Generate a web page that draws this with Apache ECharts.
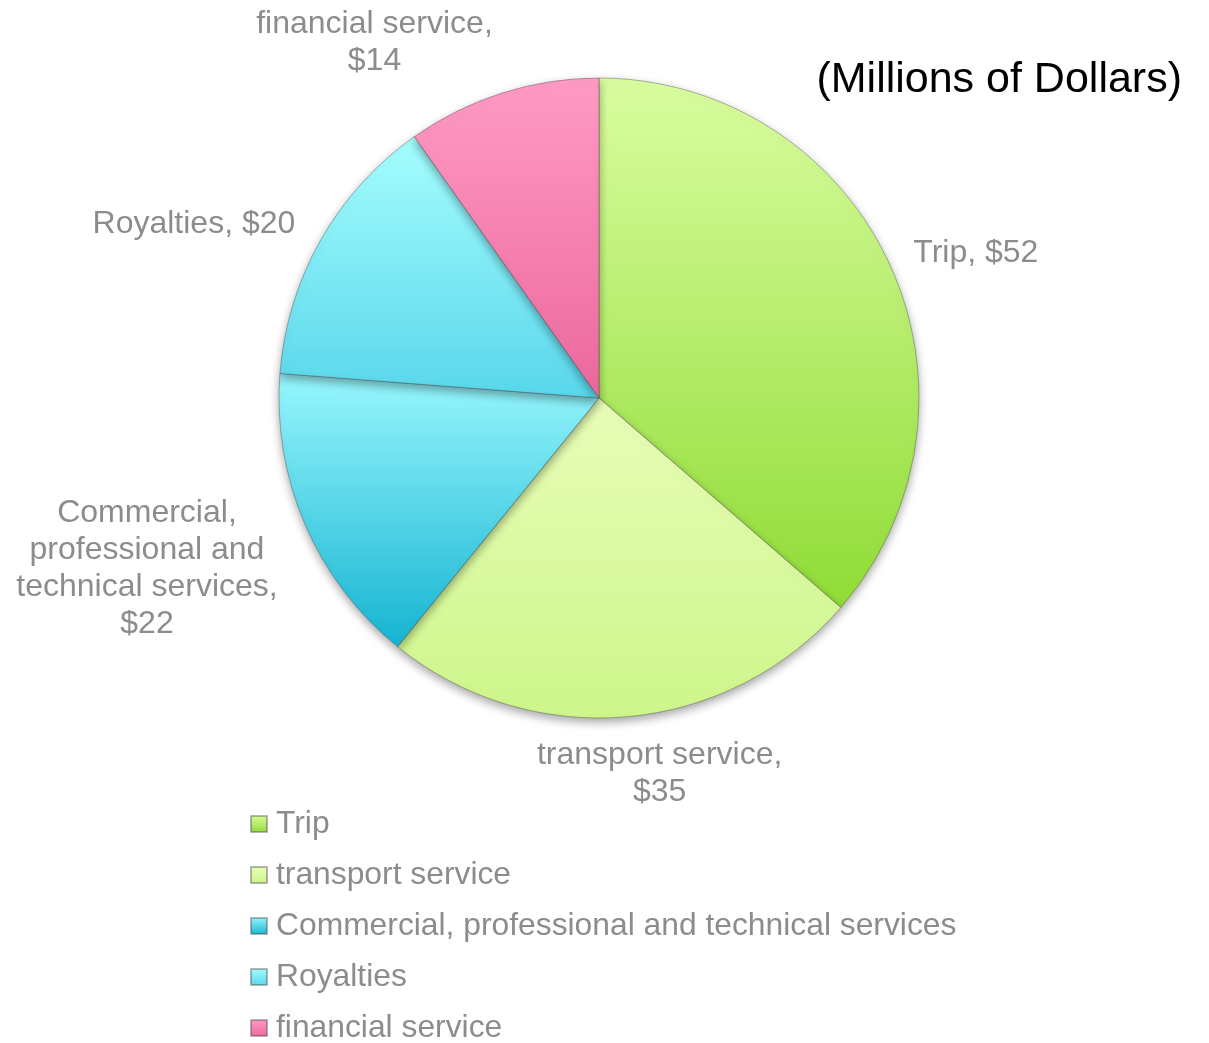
<!DOCTYPE html>
<html>
<head>
<meta charset="utf-8">
<title>Service imports (Millions of Dollars)</title>
<script src="https://cdn.jsdelivr.net/npm/echarts@6/dist/echarts.min.js"></script>
<style>
  html, body { margin: 0; padding: 0; background: #ffffff; }
  #chart { width: 1209px; height: 1043px; }
</style>
</head>
<body>
<div id="chart"></div>
<script>
// Categories and values (millions of dollars)
const categories = [
  'Trip',
  'transport service',
  'Commercial, professional and technical services',
  'Royalties',
  'financial service'
];
const values = [52, 35, 22, 20, 14];

// Slice fills: [top colour, bottom colour]
const sliceColors = [
  ['#dafda0', '#90dc36'],
  ['#e8fdb8', '#cdf68a'],
  ['#98f7fd', '#15b4d2'],
  ['#a6fefe', '#58d6eb'],
  ['#ff9bc6', '#ec689c']
];

const FONT = '"Liberation Sans", Arial, sans-serif';
const LABEL_SIZE = 32;
const LEGEND_SIZE = 31.8;
const GREY = '#8f8b8b';

const CX = 599, CY = 398, R = 320, GAP = 20;
// fine placement of each data label, [dx, dy]
const labelShift = [[5, 5], [20, 0], [-9, 4], [-8, 5], [-84, 6]];

// word-wrap a label to a maximum width using canvas text metrics
const measureCtx = document.createElement('canvas').getContext('2d');
measureCtx.font = LABEL_SIZE + 'px ' + FONT;
function wrap(text, maxW) {
  const words = text.split(' ');
  const lines = [];
  let line = '';
  words.forEach(function (w) {
    const trial = line ? line + ' ' + w : w;
    if (line && measureCtx.measureText(trial).width > maxW) {
      lines.push(line);
      line = w;
    } else {
      line = trial;
    }
  });
  if (line) lines.push(line);
  return lines.join('\n');
}

// mid angle of each slice (math convention, radians), starting at 12 o'clock clockwise
const total = values.reduce(function (a, b) { return a + b; }, 0);
const midAngles = [];
let cum = 0;
values.forEach(function (v) {
  const deg = 90 - 360 * (cum + v / 2) / total;
  midAngles.push(deg * Math.PI / 180);
  cum += v;
});

const pieData = categories.map(function (name, i) {
  return {
    name: name,
    value: values[i],
    itemStyle: {
      color: new echarts.graphic.LinearGradient(0, 0, 0, 1, [
        { offset: 0, color: sliceColors[i][0] },
        { offset: 1, color: sliceColors[i][1] }
      ])
    }
  };
});

const chart = echarts.init(document.getElementById('chart'), null, { renderer: 'canvas' });

chart.setOption({
  backgroundColor: '#ffffff',
  animation: false,
  title: {
    text: '(Millions of Dollars)',
    right: 22,
    top: 54,
    textStyle: { fontFamily: FONT, fontSize: 43, fontWeight: 'normal', color: '#000000' }
  },
  legend: {
    orient: 'vertical',
    left: 250,
    top: 808,
    height: 280,
    padding: 0,
    itemWidth: 16,
    itemHeight: 16,
    itemGap: 19,
    icon: 'rect',
    data: categories,
    textStyle: {
      fontFamily: FONT,
      fontSize: LEGEND_SIZE,
      lineHeight: 32,
      color: GREY,
      padding: [0, 0, 0, 4]
    }
  },
  series: [{
    type: 'pie',
    center: [CX, CY],
    radius: R,
    startAngle: 90,
    clockwise: true,
    bleedMargin: 0,
    data: pieData,
    itemStyle: {
      borderColor: 'rgba(70,70,70,0.4)',
      borderWidth: 1,
      shadowBlur: 10,
      shadowColor: 'rgba(0,0,0,0.35)',
      shadowOffsetY: 4
    },
    emphasis: { disabled: true },
    label: {
      show: true,
      position: 'outside',
      fontFamily: FONT,
      fontSize: LABEL_SIZE,
      lineHeight: 37,
      color: GREY,
      align: 'center',
      overflow: 'none',
      formatter: function (p) {
        return wrap(p.name + ', $' + p.value, 270);
      }
    },
    labelLine: { show: false, length: 0, length2: 0 },
    labelLayout: function (p) {
      const i = p.dataIndex;
      const a = midAngles[i];
      const c = Math.cos(a), s = Math.sin(a);
      const m = Math.max(Math.abs(c), Math.abs(s));
      const ax = CX + (R + GAP) * c;
      const ay = CY - (R + GAP) * s;
      const w = p.labelRect.width, h = p.labelRect.height;
      return {
        x: ax + (w / 2) * (c / m) + labelShift[i][0],
        y: ay - (h / 2) * (s / m) + labelShift[i][1],
        align: 'center',
        verticalAlign: 'middle'
      };
    }
  }]
});
</script>
</body>
</html>
